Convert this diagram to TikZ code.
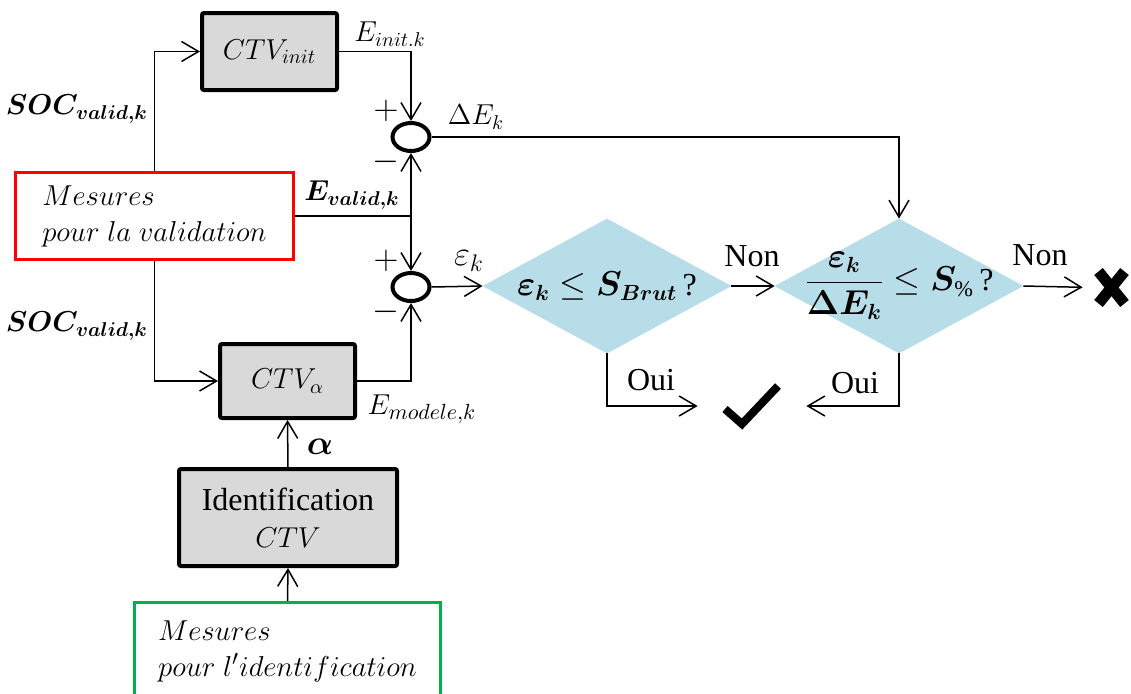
\documentclass[tikz,border=0pt]{standalone}
\usepackage{amsmath}
\usepackage{bm}
\usepackage{fontspec}
\setmainfont{Liberation Serif}
\usetikzlibrary{arrows.meta,backgrounds,shapes.geometric}
\definecolor{boxgray}{HTML}{D9D9D9}
\definecolor{decblue}{HTML}{B7DDE8}
\definecolor{mygreen}{HTML}{00B050}
\begin{document}
\begin{tikzpicture}[x=0.5pt,y=-0.5pt,
  arr/.style={-{Straight Barb[length=8.5pt,width=10pt,line width=0.75pt]}, line width=0.75pt},
  conn/.style={line width=0.75pt},
  blk/.style={draw, line width=2pt, fill=boxgray, inner sep=0pt, rounded corners=1pt, font=\fontsize{14}{18}\selectfont},
  sumc/.style={draw, ellipse, line width=2pt, minimum width=18.5pt, minimum height=14pt, inner sep=0pt},
  dec/.style={rectangle, inner sep=0pt, minimum width=124pt, minimum height=67pt, font=\fontsize{16}{18}\selectfont},
  decfill/.style={fill=decblue},
  mes/.style={line width=1.5pt, inner sep=0pt, align=left, font=\fontsize{15.5}{18}\selectfont},
  lbl/.style={inner sep=0pt, font=\fontsize{14}{16}\selectfont},
  txt/.style={inner sep=0pt, font=\fontsize{16}{18}\selectfont},
  markbox/.style={inner sep=0pt}]
\useasboundingbox (0,0) rectangle (1131,693);
\clip (0,0) rectangle (1131,693);

% blocks
\node[blk, minimum width=67.5pt, minimum height=38.5pt] (ctvinit) at (269.5,51.5) {$CTV_{init}$};
\node[blk, minimum width=67.5pt, minimum height=37pt] (ctva) at (287.5,381) {$CTV_{\alpha}$};
\node[blk, minimum width=109pt, minimum height=48.5pt, align=center, font=\fontsize{16}{18.5}\selectfont] (ident) at (288,517.5) {Identification\\\fontsize{14}{18}\selectfont$CTV$};
\node[mes, draw=red, minimum width=139pt, minimum height=43.5pt] (red) at (154.5,216) {$Mesures$\\$pour\ la\ validation$};
\node[mes, draw=mygreen, minimum width=153pt, minimum height=48.75pt] (green) at (287.5,651.25) {$Mesures$\\$pour\ l'identification$};

% summing junctions
\node[sumc] (sum1) at (411,137) {};
\node[sumc] (sum2) at (411,287) {};
\coordinate (j) at (411,216);

% decisions
\node[dec] (d1) at (607,286) {$\bm{\varepsilon_k}\le\bm{S_{Brut}}$\,?};
\node[dec] (d2) at (899,286) {$\dfrac{\bm{\varepsilon_k}}{\bm{\Delta E_k}}\le\bm{S}_{\%}$\,?};
\begin{scope}[on background layer]
\fill[decfill] (d1.west) -- (d1.north) -- (d1.east) -- (d1.south) -- cycle;
\fill[decfill] (d2.west) -- (d2.north) -- (d2.east) -- (d2.south) -- cycle;
\end{scope}

% results
\node[markbox, minimum width=28pt, minimum height=22pt] (ok) at (752,406) {};
\draw[line width=4pt, line cap=butt, line join=miter] ([shift={(-27,3)}]ok.center) -- ([shift={(-10,18)}]ok.center) -- ([shift={(26,-20)}]ok.center);
\node[markbox, minimum width=19pt, minimum height=22pt] (ko) at (1111.5,287.5) {};
\draw[line width=5.5pt, line cap=butt] ([shift={(-13,-16)}]ko.center) -- ([shift={(13,16)}]ko.center);
\draw[line width=5.5pt, line cap=butt] ([shift={(13,-16)}]ko.center) -- ([shift={(-13,16)}]ko.center);

% connectors
\draw[arr] (red.north) |- (ctvinit.west);
\draw[arr] (red.south) |- (ctva.west);
\draw[arr] (ctvinit.east) -| (sum1.north);
\draw[conn] (red.east) -- (j);
\draw[arr] (j) -- (sum1.south);
\draw[arr] (j) -- (sum2.north);
\draw[arr] (ctva.east) -| (sum2.south);
\draw[arr] (sum1.east) -| (d2.north);
\draw[arr] (sum2.east) -- (d1.west);
\draw[arr] (d1.east) -- (d2.west);
\draw[arr, shorten >=4.75pt] (d2.east) -- (ko.west);
\draw[arr, shorten >=13pt] (d1.south) |- (ok.west);
\draw[arr, shorten >=13pt] (d2.south) |- (ok.east);
\draw[arr] (ident.north) -- (ctva.south);
\draw[arr] (green.north) -- (ident.south);

% labels
\node[lbl] (linit) at (390,34) {$E_{init.k}$};
\node[lbl] (lde) at (476,117) {$\Delta E_k$};
\node[lbl, font=\fontsize{16}{16}\selectfont] (p1) at (386,111) {$+$};
\node[lbl, font=\fontsize{16}{16}\selectfont] (m1) at (386,162) {$-$};
\node[lbl, font=\fontsize{16}{16}\selectfont] (p2) at (386,261) {$+$};
\node[lbl, font=\fontsize{16}{16}\selectfont] (m2) at (386,312) {$-$};
\node[lbl] (lev) at (352,195) {$\bm{E_{valid,k}}$};
\node[lbl, font=\fontsize{17}{17}\selectfont] (leps) at (469,261) {$\varepsilon_k$};
\node[lbl] (soc1) at (77,109) {$\bm{SOC_{valid,k}}$};
\node[lbl] (soc2) at (77,326) {$\bm{SOC_{valid,k}}$};
\node[lbl, font=\fontsize{15.5}{16}\selectfont] (lem) at (422,409) {$E_{modele,k}$};
\node[lbl, font=\fontsize{17}{17}\selectfont] (lal) at (320,447) {$\bm{\alpha}$};
\node[txt] (non1) at (752,256) {Non};
\node[txt] (non2) at (1040,255) {Non};
\node[txt] (oui1) at (651,380) {Oui};
\node[txt] (oui2) at (855,383) {Oui};
\end{tikzpicture}
\end{document}
